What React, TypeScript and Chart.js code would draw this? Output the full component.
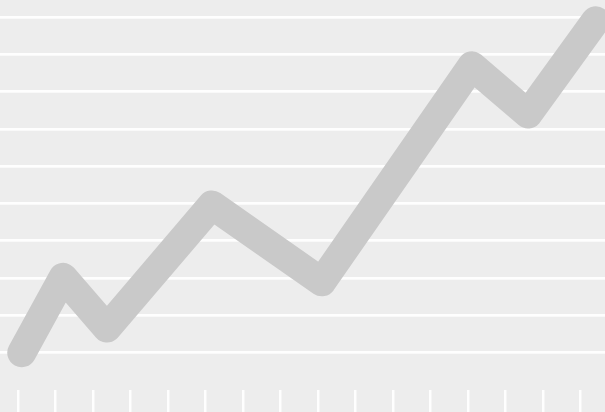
import React, { useEffect, useRef } from "react";
import { Chart, registerables } from "chart.js";

Chart.register(...registerables);

// x in tick units (16 bottom ticks: 0..15), y in gridline units (10 gridlines: 0..9)
const xValues = [0.1, 1.2, 2.37, 5.17, 8.1, 12.1, 13.6, 15.4];
const yValues = [0.0, 2.02, 0.66, 3.96, 1.9, 7.69, 6.4, 8.9];
const xTicks = [0, 1, 2, 3, 4, 5, 6, 7, 8, 9, 10, 11, 12, 13, 14, 15];
const yTicks = [0, 1, 2, 3, 4, 5, 6, 7, 8, 9];

export default function App() {
  const ref = useRef<HTMLCanvasElement | null>(null);

  useEffect(() => {
    document.body.style.margin = "0";
    const ctx = ref.current;
    if (!ctx) return;
    const chart = new Chart(ctx, {
      type: "line",
      data: {
        datasets: [
          {
            data: xValues.map((x, i) => ({ x, y: yValues[i] })),
            borderColor: "#c9c9c9",
            borderWidth: 29,
            borderCapStyle: "round",
            borderJoinStyle: "round",
            pointRadius: 0,
            tension: 0,
            fill: false,
          },
        ],
      },
      options: {
        animation: false,
        responsive: false,
        maintainAspectRatio: false,
        layout: { padding: 0 },
        plugins: { legend: { display: false }, tooltip: { enabled: false } },
        scales: {
          x: {
            type: "linear",
            min: -0.48,
            max: 15.65,
            afterBuildTicks: (axis: any) => {
              axis.ticks = xTicks.map((v) => ({ value: v }));
            },
            ticks: { display: false },
            border: { display: false },
            grid: {
              drawOnChartArea: false,
              drawTicks: true,
              tickLength: 22,
              color: "rgba(255,255,255,0.9)",
              lineWidth: 2.5,
            },
          },
          y: {
            type: "linear",
            min: -1,
            max: 9.456,
            afterBuildTicks: (axis: any) => {
              axis.ticks = yTicks.map((v) => ({ value: v }));
            },
            ticks: { display: false },
            border: { display: false },
            grid: {
              drawTicks: false,
              color: "rgba(255,255,255,0.9)",
              lineWidth: 2.8,
            },
          },
        },
      },
    });
    return () => chart.destroy();
  }, []);

  return (
    <div
      style={{
        position: "fixed",
        left: 0,
        top: 0,
        width: 605,
        height: 412,
        background: "#ededed",
      }}
    >
      <canvas ref={ref} width={605} height={412} style={{ width: 605, height: 412, display: "block" }} />
    </div>
  );
}
